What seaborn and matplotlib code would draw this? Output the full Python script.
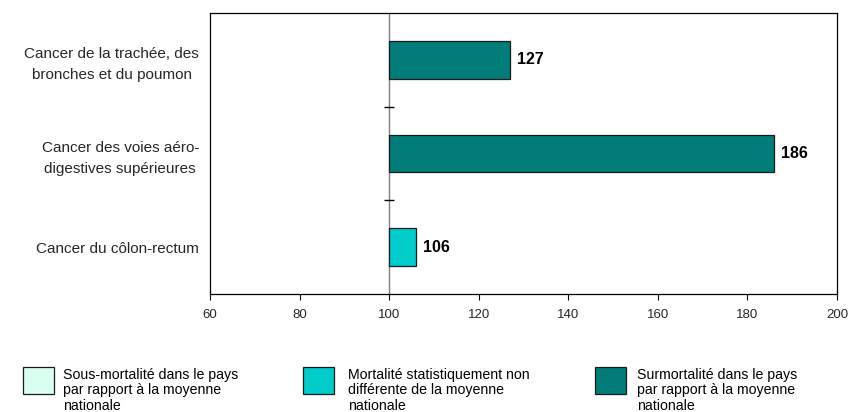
import matplotlib
matplotlib.use("Agg")
import matplotlib.pyplot as plt
from matplotlib.patches import Rectangle
import seaborn as sns
import pandas as pd

# Indices comparatifs de mortalité (base 100 = moyenne nationale)
categories = [
    "Cancer de la trachée, des\nbronches et du poumon",
    "Cancer des voies aéro-\ndigestives supérieures",
    "Cancer du côlon-rectum",
]
values = [127, 186, 106]
status = ["Surmortalité", "Surmortalité", "Non différente"]

legend_labels = [
    "Sous-mortalité dans le pays\npar rapport à la moyenne\nnationale",
    "Mortalité statistiquement non\ndifférente de la moyenne\nnationale",
    "Surmortalité dans le pays\npar rapport à la moyenne\nnationale",
]
legend_colors = ["#D9FFF0", "#00CCCC", "#007D78"]
palette = {"Sous-mortalité": legend_colors[0],
           "Non différente": legend_colors[1],
           "Surmortalité": legend_colors[2]}

x_ticks = [60, 80, 100, 120, 140, 160, 180, 200]
baseline = 100

sns.set_style("white")
plt.rcParams["font.family"] = ["Liberation Sans", "DejaVu Sans"]

df = pd.DataFrame({"cause": categories, "indice": values, "statut": status})

fig = plt.figure(figsize=(8.5, 4.12), dpi=100)
ax = fig.add_axes([210 / 850, 1 - 294 / 412, 627 / 850, 281 / 412])

sns.barplot(data=df, x="indice", y="cause", hue="statut", palette=palette,
            order=categories, dodge=False, width=0.4, legend=False,
            edgecolor="#1a1a1a", linewidth=0.9, saturation=1, ax=ax)

# Bars start from the national reference (100) rather than zero
for p in ax.patches:
    w = p.get_width()
    p.set_x(baseline)
    p.set_width(w - baseline)

for i, v in enumerate(values):
    ax.annotate(f"{v}", xy=(v, i), xytext=(5, 0), textcoords="offset points",
                ha="left", va="center", fontsize=11.5, fontweight="bold",
                color="black")

ax.set_xlim(60, 200)
ax.set_ylim(2.5, -0.5)
ax.set_xticks(x_ticks)
ax.set_xticklabels([str(t) for t in x_ticks], fontsize=9.5)
ax.set_xlabel("")
ax.set_ylabel("")
ax.tick_params(axis="x", direction="out", length=4, width=0.8, pad=7,
               bottom=True, color="black")
ax.tick_params(axis="y", length=0, pad=8, labelsize=11)
for lab in ax.get_yticklabels():
    lab.set_multialignment("center")
    lab.set_linespacing(1.65)

for s in ax.spines.values():
    s.set_visible(True)
    s.set_color("black")
    s.set_linewidth(0.9)

# Reference line at 100 with separators between categories
ax.axvline(baseline, color="#7f7f7f", linewidth=1.0, zorder=0.5)
ax.plot([baseline, baseline], [0.5, 1.5], linestyle="none", marker="_",
        markersize=7, markeredgewidth=1.0, color="black", zorder=3)

# Legend drawn below the plot
box_x = [23, 303, 595]
text_x = [63, 348, 637]
for bx, tx, col, lab in zip(box_x, text_x, legend_colors, legend_labels):
    fig.add_artist(Rectangle((bx / 850, 1 - 394 / 412), 31 / 850, 27 / 412,
                             transform=fig.transFigure, facecolor=col,
                             edgecolor="#1a1a1a", linewidth=0.9))
    fig.text(tx / 850, 1 - 368 / 412, lab, ha="left", va="top",
             fontsize=10.2, linespacing=1.12, color="black")

fig.savefig("out.png", dpi=100)
